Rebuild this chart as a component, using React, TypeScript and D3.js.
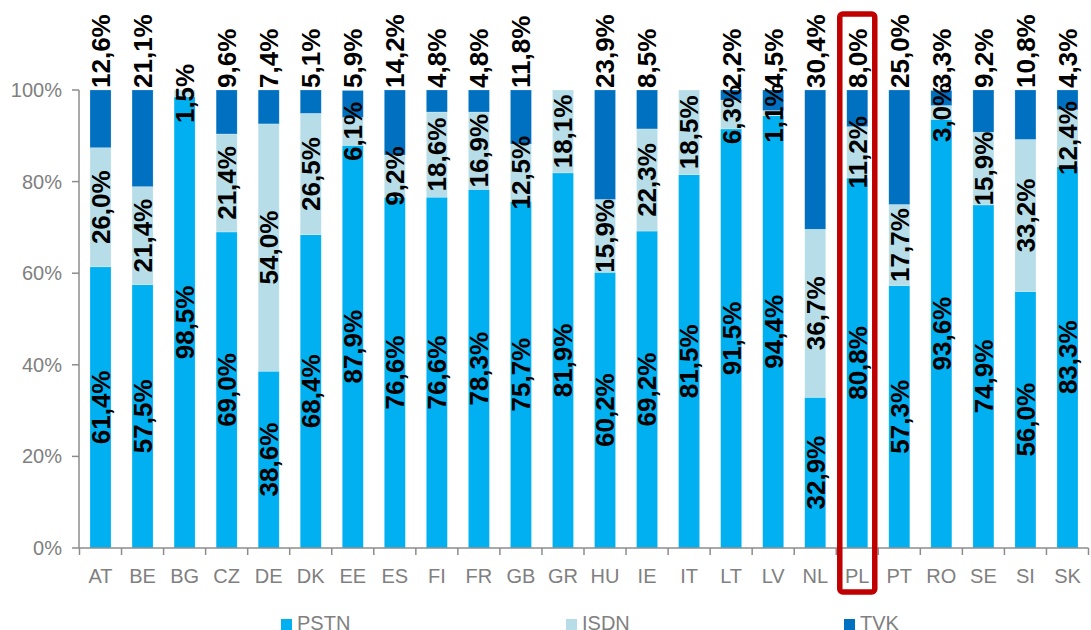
import React from "react";
import * as d3 from "d3";

const categories = ["AT","BE","BG","CZ","DE","DK","EE","ES","FI","FR","GB","GR","HU","IE","IT","LT","LV","NL","PL","PT","RO","SE","SI","SK"];
const pstn = [61.4,57.5,98.5,69.0,38.6,68.4,87.9,76.6,76.6,78.3,75.7,81.9,60.2,69.2,81.5,91.5,94.4,32.9,80.8,57.3,93.6,74.9,56.0,83.3];
const isdn = [26.0,21.4,1.5,21.4,54.0,26.5,6.1,9.2,18.6,16.9,12.5,18.1,15.9,22.3,18.5,6.3,1.1,36.7,11.2,17.7,3.0,15.9,33.2,12.4];
const tvk = [12.6,21.1,0,9.6,7.4,5.1,5.9,14.2,4.8,4.8,11.8,0,23.9,8.5,0,2.2,4.5,30.4,8.0,25.0,3.3,9.2,10.8,4.3];
const seriesNames = ["PSTN","ISDN","TVK"];
const colors = ["#00B0F0","#B7DEE8","#0070C0"];
const yTicks = [0,20,40,60,80,100];
const highlight = "PL";

const fmt = (v: number) => v.toFixed(1).replace(".", ",") + "%";

export default function App() {
  const W = 1091, H = 630;
  const x = d3.scaleBand<string>().domain(categories).range([79.5, 1088.5]).paddingInner(0.5).paddingOuter(0.25);
  const y = d3.scaleLinear().domain([0, 100]).range([548, 90]);
  const rows = categories.map((c, i) => ({ cat: c, PSTN: pstn[i], ISDN: isdn[i], TVK: tvk[i] }));
  const stack = d3.stack<any>().keys(seriesNames)(rows);
  const gray = "#808080";
  const axisColor = "#8c8c8c";
  const bw = x.bandwidth();
  const step = x.step();
  const x0 = 79;
  const hx = x(highlight)! + bw / 2;

  return (
    <svg width={W} height={H} style={{ position: "absolute", left: 0, top: 0 }} fontFamily="'Liberation Sans', Arial, sans-serif">
      {/* bars */}
      {stack.map((s, si) => (
        <g key={si} fill={colors[si]}>
          {s.map((d, i) => {
            const v = d[1] - d[0];
            if (v <= 0) return null;
            return <rect key={i} x={x(categories[i])} y={y(d[1])} width={bw} height={y(d[0]) - y(d[1])}
              stroke="#ffffff" strokeOpacity={0.35} strokeWidth={0.6} />;
          })}
        </g>
      ))}
      {/* y axis */}
      <line x1={x0} x2={x0} y1={90} y2={548} stroke={axisColor} strokeWidth={1.5} />
      {yTicks.map(t => (
        <g key={t}>
          <line x1={72} x2={x0} y1={y(t)} y2={y(t)} stroke={axisColor} strokeWidth={1.5} />
          <text x={62} y={y(t)} dy="0.35em" textAnchor="end" fontSize={20} fill={gray}>{t}%</text>
        </g>
      ))}
      {/* x axis */}
      <line x1={x0} x2={1088.5} y1={548} y2={548} stroke={axisColor} strokeWidth={1.5} />
      {d3.range(categories.length + 1).map(i => (
        <line key={i} x1={79.5 + i * step} x2={79.5 + i * step} y1={548} y2={555} stroke={axisColor} strokeWidth={1.5} />
      ))}
      {categories.map(c => (
        <text key={c} x={x(c)! + bw / 2} y={583} textAnchor="middle" fontSize={20} fill={gray}>{c}</text>
      ))}
      {/* data labels */}
      {stack.map((s, si) => s.map((d, i) => {
        const v = d[1] - d[0];
        if (v <= 0) return null;
        const cx = x(categories[i])! + bw / 2;
        if (si === 2) {
          return (
            <text key={`${si}-${i}`} transform={`translate(${cx},${y(100) - 2}) rotate(-90)`} dy="0.36em"
              fontSize={26} fontWeight="bold" fill="#000">{fmt(v)}</text>
          );
        }
        const cy = y((d[0] + d[1]) / 2);
        return (
          <text key={`${si}-${i}`} transform={`translate(${cx},${cy}) rotate(-90)`} dy="0.36em" textAnchor="middle"
            fontSize={26} fontWeight="bold" fill="#000">{fmt(v)}</text>
        );
      }))}
      {/* highlight box */}
      <rect x={hx - 17.5} y={14} width={35} height={578} fill="none" stroke="#C00000" strokeWidth={5.5} rx={3} />
      {/* legend */}
      {seriesNames.map((n, i) => {
        const lx = [281, 566, 844][i];
        return (
          <g key={n}>
            <rect x={lx} y={619} width={11} height={11} fill={colors[i]} />
            <text x={lx + 16} y={630} fontSize={20} fill={gray}>{n}</text>
          </g>
        );
      })}
    </svg>
  );
}
